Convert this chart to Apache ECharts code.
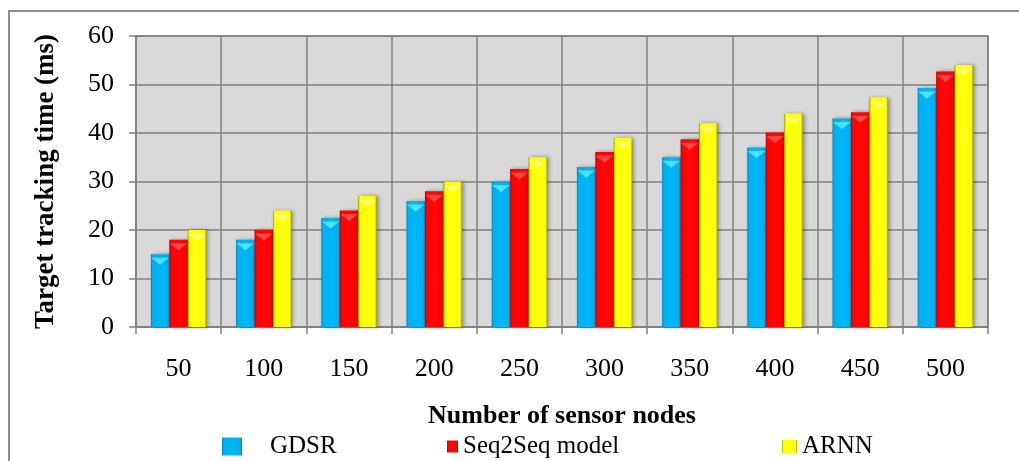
<!DOCTYPE html>
<html><head><meta charset="utf-8">
<script src="https://cdn.jsdelivr.net/npm/echarts@6/dist/echarts.min.js"></script>
<style>html,body{margin:0;padding:0;background:#fff}#c{width:1019px;height:461px}</style>
</head><body><div id="c"></div>
<script>
const categories = ['50','100','150','200','250','300','350','400','450','500'];
const gdsr    = [15, 18, 22.5, 26, 30, 33, 35, 37, 43, 49.3];
const seq2seq = [18, 20, 24, 28, 32.6, 36.1, 38.7, 40.1, 44.3, 52.7];
const arnn    = [20, 24, 27, 30, 35, 39, 42, 44, 47.3, 54];
const seriesNames = ['GDSR', 'Seq2Seq model', 'ARNN'];
const yTicks = [0, 10, 20, 30, 40, 50, 60];

const font = '"Liberation Serif", "Times New Roman", serif';
function grad(edge, main, light) {
  return new echarts.graphic.LinearGradient(0, 0, 1, 0, [
    {offset: 0, color: edge}, {offset: 0.09, color: main},
    {offset: 0.5, color: light}, {offset: 0.91, color: main}, {offset: 1, color: edge}
  ]);
}
const colors = [
  grad('#0080b8', '#00b0f0', '#00b6f6'),
  grad('#a80000', '#ff0000', '#ff0808'),
  grad('#9c9c00', '#ffff00', '#ffff14')
];
const bevel = [
  grad('#20b8e8', '#40dcff', '#50e4ff'),
  grad('#c01010', '#ff3c3c', '#ff4a4a'),
  grad('#b8b800', '#ffff5a', '#ffff70')
];
const data = [gdsr, seq2seq, arnn];

const chart = echarts.init(document.getElementById('c'));
const barSeries = data.map((d, i) => ({
  name: seriesNames[i], type: 'bar', data: d,
  barGap: '0%', barCategoryGap: '35%',
  itemStyle: {color: colors[i], shadowColor: 'rgba(0,0,0,0.35)', shadowBlur: 4, shadowOffsetX: 2, shadowOffsetY: 0},
  emphasis: {disabled: true}
}));
const capSeries = data.map((d, i) => ({
  name: seriesNames[i], type: 'pictorialBar', data: d,
  barGap: '0%', barCategoryGap: '35%',
  symbol: 'path://M0,0 L2,0 L1,1 Z', symbolSize: ['100%', 7],
  symbolPosition: 'end', symbolOffset: [0, '50%'],
  itemStyle: {color: bevel[i]}, z: 3, silent: true,
  emphasis: {disabled: true}
}));

chart.setOption({
  animation: false,
  backgroundColor: '#fff',
  graphic: [{type: 'rect', shape: {x: 9, y: 11, width: 1040, height: 480},
    style: {fill: 'none', stroke: '#8c8c8c', lineWidth: 2}, z: -1}],
  grid: {left: 136, right: 31, top: 36, bottom: 134, show: true, backgroundColor: '#d9d9d9', borderColor: '#808080', borderWidth: 1.5},
  legend: [
    {data: [seriesNames[0]], left: 217, top: 429, itemWidth: 20, itemHeight: 18, icon: 'rect',
     textStyle: {fontFamily: font, fontSize: 25, color: '#000', padding: [0, 0, 0, 23]}},
    {data: [seriesNames[1]], left: 442, top: 429, itemWidth: 11, itemHeight: 12, icon: 'rect',
     textStyle: {fontFamily: font, fontSize: 25, color: '#000'}},
    {data: [seriesNames[2]], left: 777, top: 429, itemWidth: 15, itemHeight: 13, icon: 'rect',
     textStyle: {fontFamily: font, fontSize: 25, color: '#000'}}
  ],
  xAxis: {
    type: 'category', data: categories,
    name: 'Number of sensor nodes', nameLocation: 'middle', nameGap: 76,
    nameTextStyle: {fontFamily: font, fontSize: 26, fontWeight: 'bold', color: '#000'},
    axisLine: {show: true, lineStyle: {color: '#808080', width: 1.5}},
    axisTick: {show: true, length: 7, interval: 0, lineStyle: {color: '#808080', width: 1.5}},
    axisLabel: {fontFamily: font, fontSize: 26, color: '#000', margin: 29},
    splitLine: {show: true, interval: 0, lineStyle: {color: '#808080', width: 1.5}}
  },
  yAxis: {
    type: 'value', min: yTicks[0], max: yTicks[yTicks.length - 1], interval: 10,
    name: 'Target tracking time (ms)', nameLocation: 'middle', nameGap: 76,
    nameTextStyle: {fontFamily: font, fontSize: 27, fontWeight: 'bold', color: '#000'},
    axisLine: {show: true, lineStyle: {color: '#808080', width: 1.5}},
    axisTick: {show: true, length: 7, lineStyle: {color: '#808080', width: 1.5}},
    axisLabel: {fontFamily: font, fontSize: 26, color: '#000', margin: 22},
    splitLine: {show: true, lineStyle: {color: '#808080', width: 1.5}}
  },
  series: barSeries.concat(capSeries)
});
</script></body></html>
